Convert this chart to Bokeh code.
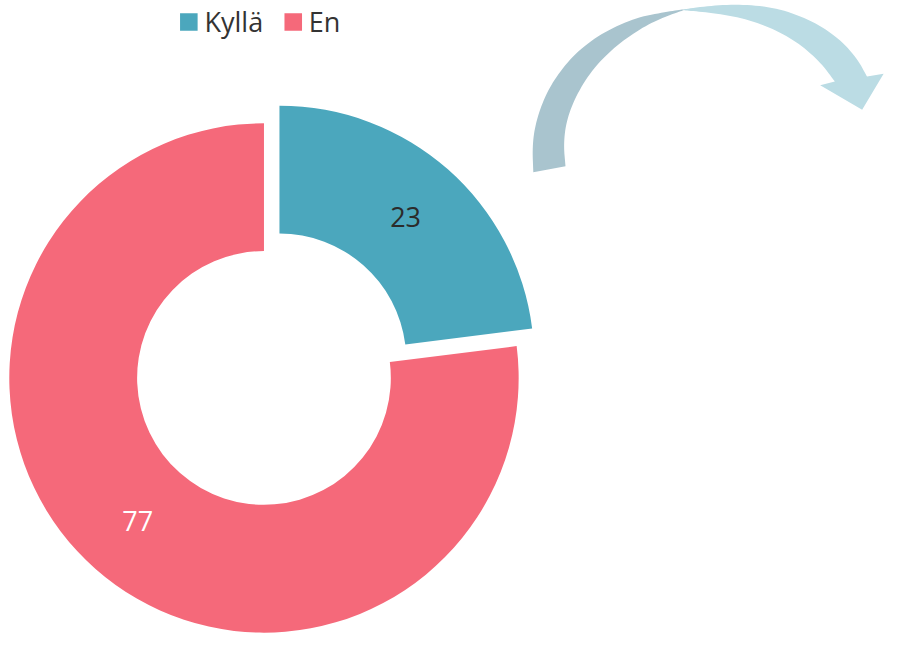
import math
from bokeh.plotting import figure
from bokeh.models import Range1d
from bokeh.core.properties import value
from bokeh.embed import file_html
from bokeh.resources import INLINE

# ---- data ----
categories = ["Kyllä", "En"]
values = [23, 77]
colors = ["#4BA7BD", "#F5697A"]
label_colors = ["#2b2b2b", "#ffffff"]
exploded = [True, False]

# ---- decorative arrow outline (reference pixel coordinates) ----
arrow_left_outer_x = [546, 545, 548, 557, 570, 590, 617, 650, 680, 700]
arrow_left_outer_y = [176, 150, 127, 100, 77, 53, 33, 18, 12, 9]
arrow_left_inner_x = [700, 680, 657, 630, 607, 590, 580, 577, 579]
arrow_left_inner_y = [10, 17, 28, 47, 70, 97, 123, 147, 170]
arrow_right_upper_x = [700, 730, 763, 797, 830, 857, 877, 888]
arrow_right_upper_y = [9, 5, 4, 8, 20, 37, 58, 78]
arrow_head_x = [888, 905, 883, 840, 855]
arrow_head_y = [78, 75, 112, 87, 83]
arrow_right_lower_x = [855, 840, 817, 790, 757, 723, 700]
arrow_right_lower_y = [83, 63, 43, 28, 17, 12, 10]


def smooth(xs, ys, n=3):
    """Chaikin smoothing of a decorative outline, keeping the end points."""
    pts = list(zip(xs, ys))
    for _ in range(n):
        out = [pts[0]]
        for (x0, y0), (x1, y1) in zip(pts[:-1], pts[1:]):
            out.append((0.75 * x0 + 0.25 * x1, 0.75 * y0 + 0.25 * y1))
            out.append((0.25 * x0 + 0.75 * x1, 0.25 * y0 + 0.75 * y1))
        out.append(pts[-1])
        pts = out
    return [q[0] for q in pts], [q[1] for q in pts]


H = 649.0
W = 910.0
p = figure(width=888, height=633, output_backend="svg", toolbar_location=None,
           x_range=Range1d(0, W), y_range=Range1d(0, H), min_border=0,
           background_fill_color="white", border_fill_color="white")
p.axis.visible = False
p.grid.visible = False
p.outline_line_color = None

# ---- donut ----
cx, cy = 270.0, H - 387.0
r_out, r_in = 261.0, 130.0
explode = 24.0
total = float(sum(values))
cum = 0.0
for cat, v, col, lc, ex in zip(categories, values, colors, label_colors, exploded):
    frac0 = cum / total
    frac1 = (cum + v) / total
    cum += v
    # clockwise from 12 o'clock
    a_start = math.pi / 2 - 2 * math.pi * frac1
    a_end = math.pi / 2 - 2 * math.pi * frac0
    mid = (a_start + a_end) / 2
    ox, oy = cx, cy
    if ex:
        ox += explode * math.cos(mid)
        oy += explode * math.sin(mid)
    p.annular_wedge(x=[ox], y=[oy], inner_radius=r_in, outer_radius=r_out,
                    start_angle=a_start, end_angle=a_end, direction="anticlock",
                    fill_color=col, line_color=None)
    rm = (r_in + r_out) / 2
    p.text(x=[ox + rm * math.cos(mid)], y=[oy + rm * math.sin(mid)], text=[str(v)],
           text_align="center", text_baseline="middle", text_color=lc,
           text_font=value("Open Sans"), text_font_size="27px")

# ---- legend ----
lx = 193.0
ly = H - 22.0
for cat, col in zip(categories, colors):
    p.rect(x=[lx], y=[ly], width=18, height=18, fill_color=col, line_color=None)
    p.text(x=[lx + 16], y=[ly], text=[cat], text_align="left", text_baseline="middle",
           text_color="#333333", text_font=value("Open Sans"), text_font_size="27px")
    lx += 107.0

# ---- decorative arrow ----
lox, loy = smooth(arrow_left_outer_x, arrow_left_outer_y)
lix, liy = smooth(arrow_left_inner_x, arrow_left_inner_y)
left_x = lox + lix
left_y = [H - y for y in loy + liy]
p.patch(left_x, left_y, fill_color="#A9C4CE", line_color=None)
rux, ruy = smooth(arrow_right_upper_x, arrow_right_upper_y)
rlx, rly = smooth(arrow_right_lower_x, arrow_right_lower_y)
right_x = rux + arrow_head_x[1:-1] + rlx
right_y = [H - y for y in ruy + arrow_head_y[1:-1] + rly]
p.patch(right_x, right_y, fill_color="#BBDCE4", line_color=None)

open("out.html", "w").write(file_html(p, INLINE))
